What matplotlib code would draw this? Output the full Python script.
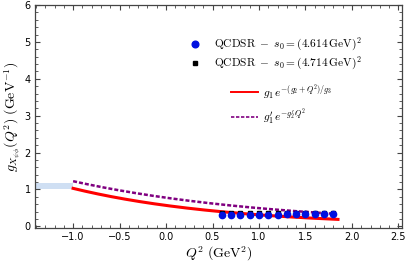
import numpy as np
import matplotlib
matplotlib.use('Agg')
import matplotlib.pyplot as plt
from matplotlib.ticker import MultipleLocator

plt.rcParams['mathtext.fontset'] = 'cm'
plt.rcParams['font.family'] = 'DejaVu Sans'

# QCD sum rules points
q2_pts = [0.6, 0.7, 0.8, 0.9, 1.0, 1.1, 1.2, 1.3, 1.4, 1.5, 1.6, 1.7, 1.8]
g_s0a = [0.30, 0.30, 0.30, 0.30, 0.31, 0.31, 0.31, 0.32, 0.32, 0.32, 0.32, 0.32, 0.33]
g_s0b = [0.36, 0.36, 0.36, 0.36, 0.36, 0.36, 0.36, 0.36, 0.36, 0.36, 0.35, 0.35, 0.35]

# fit parameters
g1, g2, g3 = 0.60, 0.10, 1.67
g1p, g2p = 0.775, 0.456
red_range = (-1.0, 1.85)
purple_range = (-1.0, 1.8)

# band at Q^2 = -m^2
band_x = (-1.41, -1.0)
band_y = (1.02, 1.18)

fig = plt.figure(figsize=(4.07, 2.69), dpi=100)
ax = fig.add_axes([0.086, 0.152, 0.902, 0.829])

ax.fill_between(band_x, band_y[0], band_y[1], color='#cfdff3', lw=0, zorder=1)

q_red = np.linspace(red_range[0], red_range[1], 200)
ax.plot(q_red, g1 * np.exp(-(g2 + q_red) / g3), color='red', lw=2.2, zorder=3)
q_pur = np.linspace(purple_range[0], purple_range[1], 200)
ax.plot(q_pur, g1p * np.exp(-g2p * q_pur), color='#800080', lw=1.8,
        ls=(0, (1.6, 0.8)), zorder=4)

ax.plot(q2_pts, g_s0b, 's', color='black', ms=3.4, zorder=5)
ax.plot(q2_pts, g_s0a, 'o', color='#0010e0', ms=4.5, zorder=6)

ax.set_xlim(-1.41, 2.54)
ax.set_ylim(-0.05, 6.0)
ax.xaxis.set_major_locator(MultipleLocator(0.5))
ax.xaxis.set_minor_locator(MultipleLocator(0.1))
ax.yaxis.set_major_locator(MultipleLocator(1))
ax.yaxis.set_minor_locator(MultipleLocator(0.2))
ax.set_xticks([-1.0, -0.5, 0.0, 0.5, 1.0, 1.5, 2.0, 2.5])
ax.set_xticklabels(['\u22121.0', '\u22120.5', '0.0', '0.5', '1.0', '1.5', '2.0', '2.5'])
ax.tick_params(which='both', direction='in', top=True, right=True, labelsize=7,
               color='#444444', pad=3)
ax.tick_params(which='major', length=3.5, width=0.8)
ax.tick_params(which='minor', length=2, width=0.6)
for s in ax.spines.values():
    s.set_color('#444444')
    s.set_linewidth(0.9)

ax.set_xlabel(r'$Q^2\ (\mathrm{GeV}^2)$', fontsize=10, labelpad=2)
ax.set_ylabel(r'$g_{X_{\psi\phi}}(Q^2)\ (\mathrm{GeV}^{-1})$', fontsize=10, labelpad=1)

# legend
tr = ax.transAxes
ax.plot([0.436], [0.825], 'o', color='#0010e0', ms=4.8, transform=tr, clip_on=False)
ax.text(0.488, 0.825, r'$\mathrm{QCDSR}\ -\ s_0=(4.614\,\mathrm{GeV})^2$',
        transform=tr, fontsize=8.2, va='center', ha='left')
ax.plot([0.436], [0.740], 's', color='black', ms=3.0, transform=tr, clip_on=False)
ax.text(0.488, 0.740, r'$\mathrm{QCDSR}\ -\ s_0=(4.714\,\mathrm{GeV})^2$',
        transform=tr, fontsize=8.2, va='center', ha='left')
ax.plot([0.534, 0.608], [0.610, 0.610], color='red', lw=1.4, transform=tr)
ax.text(0.621, 0.610, r'$g_1\, e^{-(g_2+Q^2)/g_3}$', transform=tr,
        fontsize=8.2, va='center', ha='left')
ax.plot([0.534, 0.608], [0.498, 0.498], color='#800080', lw=1.2,
        ls=(0, (2, 1)), transform=tr)
ax.text(0.621, 0.498, r"$g_1'\, e^{-g_2' Q^2}$", transform=tr,
        fontsize=8.2, va='center', ha='left')

fig.savefig('out.png', dpi=100)
